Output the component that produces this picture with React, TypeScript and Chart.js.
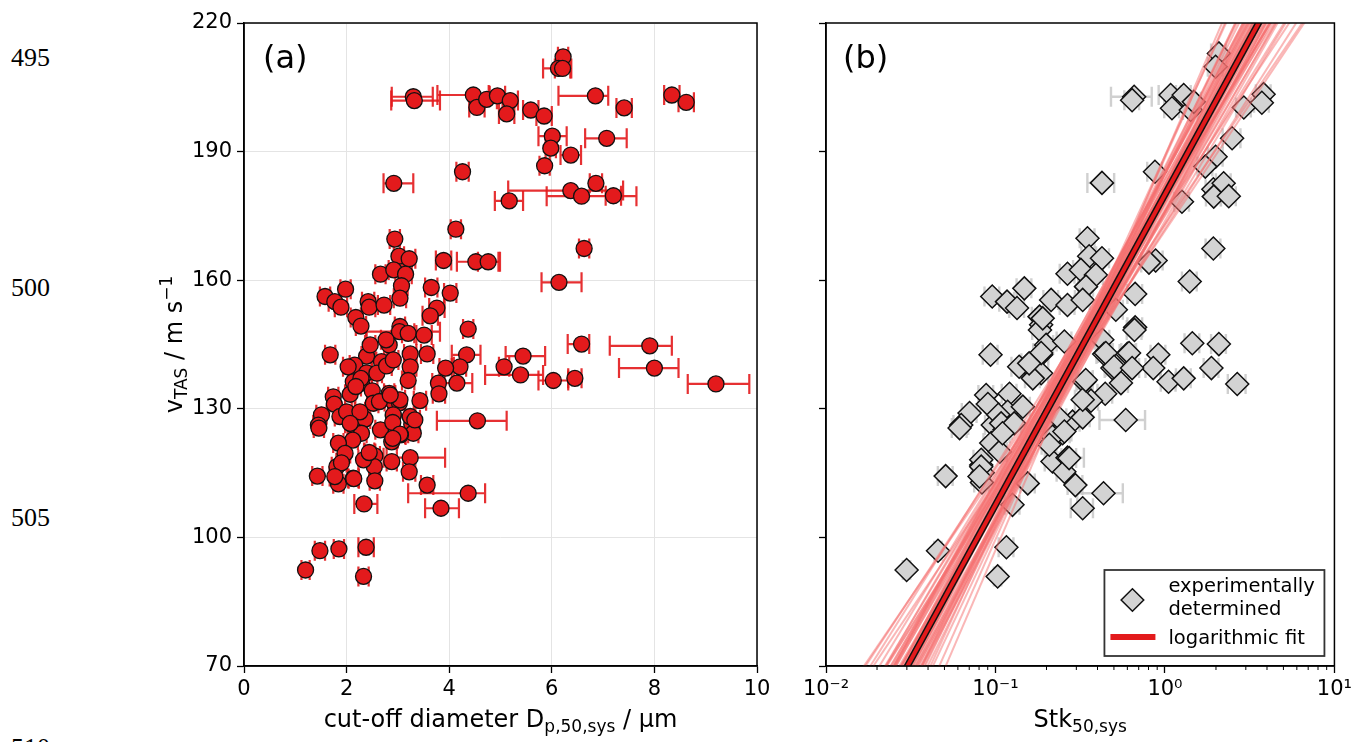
import React, { useEffect, useRef } from "react";
import { Chart, registerables } from "chart.js";

Chart.register(...registerables);

const FONT = "'DejaVu Sans', 'Noto Sans', sans-serif";

// ---------- Panel (a): cut-off diameter vs true air speed ----------
const aDp = [
  6.22, 6.13, 6.21, 3.30, 3.32, 4.47, 4.54, 4.73, 4.94, 5.19,
  5.12, 5.59, 5.85, 6.85, 7.41, 8.34, 8.62, 6.01, 7.07, 5.98,
  6.37, 5.86, 2.92, 4.26, 6.37, 6.58, 6.86, 7.20, 5.17, 4.13,
  2.94, 6.63, 3.02, 3.22, 3.89, 4.52, 4.76, 2.66, 2.92, 3.15,
  3.07, 6.14, 1.58, 1.98, 1.77, 1.89, 2.42, 2.44, 2.73, 3.04,
  3.65, 4.02, 3.76, 3.63, 2.18, 2.28, 3.04, 3.03, 3.20, 3.51,
  4.37, 6.58, 7.91, 5.44, 5.07, 5.39, 6.03, 6.45, 8.00, 9.20,
  4.34, 4.21, 3.93, 4.15, 3.79, 3.80, 3.43, 4.55, 3.57, 3.24,
  3.24, 3.20, 1.68, 2.39, 2.68, 2.83, 2.46, 2.77, 2.16, 2.03,
  2.39, 2.13, 2.29, 2.50, 2.07, 1.74, 1.76, 2.52, 2.83, 2.91,
  3.03, 1.51, 1.45, 1.46, 1.87, 2.00, 2.13, 2.36, 2.66, 2.91,
  3.27, 3.30, 3.05, 2.88, 2.29, 2.12, 1.84, 1.97, 1.81, 1.90,
  1.84, 1.77, 1.43, 2.13, 2.46, 2.55, 2.54, 2.33, 2.55, 2.88,
  3.24, 3.22, 3.57, 4.37, 2.34, 3.84, 1.48, 1.85, 2.38, 1.20,
  2.33, 2.64, 3.24, 3.33, 3.04, 2.26, 2.07, 2.91, 2.90, 3.04,
  2.90, 2.44, 2.14, 2.85, 2.59, 2.28, 2.18, 2.78, 2.91,
];
const aV = [
  212.1, 209.4, 209.4, 202.8, 201.9, 203.2, 200.3, 202.2, 203.0, 201.9,
  198.8, 199.7, 198.3, 203.0, 200.2, 203.2, 201.5, 193.6, 193.1, 190.8,
  189.2, 186.7, 182.6, 185.3, 180.9, 179.6, 182.6, 179.7, 178.5, 171.9,
  169.6, 167.4, 165.6, 165.0, 164.6, 164.3, 164.3, 161.4, 162.4, 161.4,
  158.7, 159.5, 156.2, 157.9, 155.0, 153.7, 155.0, 153.7, 154.2, 155.8,
  158.3, 157.0, 153.5, 151.7, 151.3, 149.3, 149.2, 148.0, 147.6, 147.2,
  148.6, 145.1, 144.7, 142.3, 139.8, 137.9, 136.6, 137.1, 139.5, 135.8,
  142.6, 139.8, 139.5, 136.0, 136.0, 133.5, 131.9, 127.2, 142.8, 142.8,
  139.8, 136.6, 142.6, 142.3, 141.0, 144.9, 144.9, 146.1, 140.2, 139.8,
  138.4, 136.3, 136.0, 134.2, 133.4, 132.8, 131.1, 131.3, 133.6, 131.7,
  131.4, 128.6, 126.2, 125.5, 128.2, 129.3, 126.2, 127.6, 125.1, 128.3,
  126.4, 124.3, 123.9, 122.3, 124.3, 122.7, 122.0, 119.6, 116.5, 117.4,
  112.5, 114.2, 114.3, 113.8, 119.6, 119.0, 116.5, 118.1, 113.2, 117.7,
  118.6, 115.3, 112.2, 110.3, 107.8, 106.8, 96.9, 97.3, 97.7, 92.4,
  90.9, 131.7, 128.2, 127.4, 132.1, 129.3, 126.6, 128.6, 126.8, 124.1,
  123.1, 119.8, 113.7, 133.2, 138.3, 137.1, 135.2, 140.0, 141.4,
];
const aErrLo = [
  0.10, 0.30, 0.15, 0.42, 0.45, 0.70, 0.15, 0.15, 0.15, 0.15,
  0.15, 0.15, 0.15, 0.72, 0.15, 0.15, 0.15, 0.27, 0.42, 0.10,
  0.20, 0.10, 0.20, 0.12, 1.22, 0.68, 0.12, 0.15, 0.28, 0.10,
  0.10, 0.10, 0.10, 0.12, 0.15, 0.37, 0.20, 0.10, 0.10, 0.12,
  0.12, 0.34, 0.10, 0.10, 0.12, 0.12, 0.12, 0.12, 0.12, 0.12,
  0.12, 0.12, 0.15, 0.15, 0.10, 0.10, 0.10, 0.64, 0.12, 0.15,
  0.10, 0.27, 0.78, 0.34, 0.10, 0.69, 0.29, 0.13, 0.69, 0.55,
  0.29, 0.12, 0.12, 0.30, 0.12, 0.12, 0.12, 0.79, 0.12, 0.12,
  0.12, 0.12, 0.10, 0.10, 0.10, 0.10, 0.10, 0.10, 0.10, 0.10,
  0.10, 0.10, 0.10, 0.10, 0.10, 0.10, 0.10, 0.10, 0.10, 0.10,
  0.10, 0.10, 0.10, 0.10, 0.10, 0.10, 0.10, 0.10, 0.10, 0.10,
  0.10, 0.10, 0.10, 0.10, 0.10, 0.10, 0.10, 0.10, 0.10, 0.10,
  0.10, 0.10, 0.10, 0.10, 0.10, 0.10, 0.10, 0.10, 0.10, 0.10,
  0.52, 0.12, 0.12, 1.17, 0.19, 0.31, 0.10, 0.10, 0.15, 0.08,
  0.10, 0.10, 0.10, 0.10, 0.10, 0.10, 0.10, 0.10, 0.10, 0.10,
  0.10, 0.10, 0.10, 0.10, 0.10, 0.10, 0.10, 0.10, 0.10,
];
const aErrHi = [
  0.10, 0.25, 0.15, 0.38, 0.50, 0.30, 0.15, 0.20, 0.15, 0.15,
  0.15, 0.15, 0.15, 0.25, 0.15, 0.15, 0.15, 0.28, 0.39, 0.10,
  0.20, 0.10, 0.38, 0.12, 1.02, 1.07, 0.12, 0.15, 0.27, 0.10,
  0.10, 0.10, 0.10, 0.12, 0.15, 0.47, 0.20, 0.10, 0.15, 0.12,
  0.12, 0.44, 0.10, 0.10, 0.12, 0.12, 0.12, 0.12, 0.12, 0.12,
  0.12, 0.12, 0.15, 0.15, 0.10, 0.10, 0.10, 0.79, 0.12, 0.15,
  0.10, 0.15, 0.43, 0.43, 0.10, 0.44, 0.29, 0.13, 0.47, 0.65,
  0.27, 0.12, 0.12, 0.30, 0.12, 0.12, 0.12, 0.57, 0.12, 0.12,
  0.12, 0.12, 0.10, 0.10, 0.10, 0.10, 0.10, 0.10, 0.10, 0.10,
  0.10, 0.10, 0.10, 0.10, 0.10, 0.10, 0.10, 0.10, 0.10, 0.10,
  0.10, 0.10, 0.10, 0.10, 0.10, 0.10, 0.10, 0.10, 0.10, 0.10,
  0.10, 0.10, 0.10, 0.10, 0.10, 0.10, 0.10, 0.10, 0.10, 0.10,
  0.10, 0.10, 0.10, 0.10, 0.10, 0.10, 0.10, 0.10, 0.10, 0.10,
  0.68, 0.12, 0.12, 0.33, 0.26, 0.35, 0.10, 0.10, 0.15, 0.08,
  0.10, 0.10, 0.10, 0.10, 0.10, 0.10, 0.10, 0.10, 0.10, 0.10,
  0.10, 0.10, 0.10, 0.10, 0.10, 0.10, 0.10, 0.10, 0.10,
];

// ---------- Panel (b): Stokes number vs true air speed ----------
const bStk = [
  2.08, 1.99, 0.658, 0.640, 1.08, 1.29, 1.10, 1.42, 1.48, 2.92,
  3.82, 3.73, 2.49, 1.99, 1.73, 0.873, 0.425, 1.26, 1.93, 2.22,
  1.94, 2.38, 1.93, 0.349, 0.357, 0.425, 0.881, 0.805, 0.266, 0.319,
  0.391, 0.342, 1.40, 0.667, 0.0957, 0.117, 0.148, 0.134, 0.213, 0.266,
  0.327, 0.182, 0.186, 0.667, 0.513, 1.45, 2.08, 0.427, 0.661, 0.183,
  0.0935, 0.914, 0.600, 0.438, 1.88, 0.853, 1.05, 1.29, 2.67, 0.490,
  0.550, 0.444, 0.366, 0.587, 0.334, 0.155, 0.186, 0.186, 0.138, 0.166,
  0.121, 0.118, 0.0881, 0.0902, 0.0703, 0.0628, 0.0614, 0.0964, 0.113, 0.0944,
  0.106, 0.0824, 0.0841, 0.0832, 0.0508, 0.126, 0.155, 0.217, 0.266, 0.255,
  0.296, 0.434, 0.327, 0.249, 0.255, 0.285, 0.327, 0.238, 0.217, 0.208,
  0.0299, 0.0458, 0.116, 0.103, 0.190, 0.199, 0.186, 0.255, 0.158, 0.448,
  0.501, 0.614, 0.104, 0.108, 0.0824, 0.0824, 0.0805, 0.145, 0.129, 0.110,
  0.272, 0.327, 0.341, 0.255, 0.640,
];
const bV = [
  212.9, 209.8, 202.8, 202.0, 203.2, 203.2, 200.1, 199.7, 201.6, 200.3,
  203.4, 201.4, 193.1, 188.8, 186.5, 185.3, 182.7, 178.3, 181.2, 182.6,
  179.5, 179.6, 167.4, 169.8, 165.6, 165.1, 164.6, 164.1, 161.5, 162.4,
  161.2, 158.5, 159.7, 156.8, 156.2, 155.0, 158.1, 153.5, 155.4, 154.2,
  155.4, 151.5, 149.6, 149.0, 153.1, 145.3, 145.1, 146.1, 148.4, 148.4,
  142.6, 142.6, 142.8, 142.8, 139.5, 139.5, 136.3, 137.1, 135.8, 139.5,
  136.0, 133.5, 131.9, 127.4, 136.3, 140.2, 142.6, 138.3, 139.8, 137.1,
  133.5, 129.3, 133.2, 131.1, 129.0, 126.2, 125.5, 126.2, 125.1, 122.0,
  120.0, 116.9, 115.1, 112.8, 114.3, 107.6, 112.6, 117.7, 118.6, 115.3,
  112.2, 110.3, 106.8, 124.3, 125.8, 127.0, 128.0, 127.8, 123.5, 121.6,
  92.4, 96.9, 97.7, 90.9, 151.1, 144.9, 143.0, 145.7, 140.6, 143.0,
  139.8, 143.0, 128.6, 126.6, 118.1, 116.5, 114.2, 130.5, 126.6, 124.3,
  118.5, 132.1, 136.7, 124.7, 139.5,
];
const bRelErr = [
  0.10, 0.10, 0.27, 0.10, 0.15, 0.10, 0.10, 0.10, 0.10, 0.10,
  0.10, 0.10, 0.12, 0.10, 0.10, 0.10, 0.18, 0.10, 0.10, 0.10,
  0.10, 0.10, 0.10, 0.10, 0.10, 0.10, 0.10, 0.10, 0.10, 0.10,
  0.10, 0.10, 0.10, 0.10, 0.10, 0.10, 0.10, 0.10, 0.10, 0.10,
  0.10, 0.10, 0.10, 0.10, 0.10, 0.10, 0.10, 0.10, 0.10, 0.10,
  0.10, 0.10, 0.10, 0.10, 0.10, 0.10, 0.10, 0.10, 0.12, 0.10,
  0.10, 0.10, 0.10, 0.30, 0.10, 0.10, 0.10, 0.10, 0.10, 0.10,
  0.10, 0.10, 0.10, 0.10, 0.10, 0.10, 0.10, 0.10, 0.10, 0.10,
  0.10, 0.10, 0.10, 0.10, 0.10, 0.10, 0.10, 0.10, 0.25, 0.10,
  0.10, 0.30, 0.15, 0.10, 0.10, 0.10, 0.10, 0.10, 0.10, 0.10,
  0.05, 0.05, 0.10, 0.05, 0.10, 0.10, 0.10, 0.10, 0.10, 0.10,
  0.10, 0.10, 0.10, 0.10, 0.10, 0.10, 0.10, 0.10, 0.10, 0.10,
  0.10, 0.10, 0.10, 0.10, 0.10,
];

// logarithmic fit, given by its values at Stk = 0.01 and Stk = 10
const fitEnds = [35.2, 252.4];
// bootstrap fits (pink band): value at Stk = 0.01 and at Stk = 10
const bandStart = [
  56, 48, 53.5, 47, 49.5, 41, 44.5, 40.8, 46, 38.3,
  42.5, 34.8, 39, 41.3, 35.5, 41.8, 35, 37.3, 30.5, 34.8,
  37, 30.3, 31.5, 33.8, 27, 30.5, 26, 28.5, 22, 22,
  17, 17, 10.5, 5, 57, 53.5,
  43.5, 36, 41.5, 32, 37.5, 30, 35.5, 28, 41, 28,
  41, 34.5, 36.5, 32.5, 42, 25.5, 47, 25,
];
const bandEnd = [
  236, 234, 242.5, 239, 244.5, 239, 245.5, 243.3, 250, 243.8,
  249.5, 243.3, 249, 252.8, 248.5, 256.3, 251, 254.8, 249.5, 255.3,
  259, 253.8, 256.5, 260.3, 255, 261.5, 260, 265.5, 262, 268,
  269, 275, 277.5, 281, 231, 230.5,
  250.5, 246, 254.5, 248, 256.5, 252, 260.5, 256, 257, 250,
  251, 253.5, 249.5, 257.5, 246, 256.5, 245, 265,
];

const logTickValues = [0.01, 0.1, 1, 10];
const logTickLabels = ["10\u207B\u00B2", "10\u207B\u00B9", "10\u2070", "10\u00B9"];
const pageLineNumbers = ["495", "500", "505", "510"];

const RED = "rgb(227,26,28)";
const CAP = 10;

type Part = { t: string; size: number; dy?: number };

function drawRich(ctx: CanvasRenderingContext2D, parts: Part[], x: number, baseline: number, align: "center" | "left") {
  let w = 0;
  parts.forEach((p) => {
    ctx.font = `${p.size}px ${FONT}`;
    w += ctx.measureText(p.t).width;
  });
  let cx = align === "center" ? x - w / 2 : x;
  ctx.textAlign = "left";
  ctx.textBaseline = "alphabetic";
  parts.forEach((p) => {
    ctx.font = `${p.size}px ${FONT}`;
    ctx.fillText(p.t, cx, baseline + (p.dy || 0));
    cx += ctx.measureText(p.t).width;
  });
}

const framePlugin = {
  id: "frame",
  afterDraw(chart: any) {
    const { ctx, chartArea } = chart;
    ctx.save();
    ctx.strokeStyle = "#000";
    ctx.lineWidth = 1.5;
    ctx.strokeRect(chartArea.left, chartArea.top, chartArea.right - chartArea.left, chartArea.bottom - chartArea.top);
    ctx.restore();
  },
};

const errAPlugin = {
  id: "errA",
  beforeDatasetsDraw(chart: any) {
    const { ctx, chartArea, scales } = chart;
    const xs = scales.x;
    const ys = scales.y;
    ctx.save();
    ctx.beginPath();
    ctx.rect(chartArea.left, chartArea.top, chartArea.right - chartArea.left, chartArea.bottom - chartArea.top);
    ctx.clip();
    ctx.strokeStyle = "rgba(227,26,28,0.9)";
    ctx.lineWidth = 2.2;
    aDp.forEach((d, i) => {
      const py = ys.getPixelForValue(aV[i]);
      const x0 = xs.getPixelForValue(d - aErrLo[i]);
      const x1 = xs.getPixelForValue(d + aErrHi[i]);
      ctx.beginPath();
      ctx.moveTo(x0, py);
      ctx.lineTo(x1, py);
      ctx.moveTo(x0, py - CAP);
      ctx.lineTo(x0, py + CAP);
      ctx.moveTo(x1, py - CAP);
      ctx.lineTo(x1, py + CAP);
      ctx.stroke();
    });
    ctx.restore();
  },
};

const labelsAPlugin = {
  id: "labelsA",
  afterDraw(chart: any) {
    const { ctx, chartArea } = chart;
    ctx.save();
    ctx.fillStyle = "#000";
    const cx = (chartArea.left + chartArea.right) / 2;
    drawRich(ctx, [
      { t: "cut-off diameter D", size: 24 },
      { t: "p,50,sys", size: 17, dy: 5 },
      { t: " / \u00B5m", size: 24 },
    ], cx, 727, "center");
    ctx.save();
    ctx.translate(182, (chartArea.top + chartArea.bottom) / 2);
    ctx.rotate(-Math.PI / 2);
    drawRich(ctx, [
      { t: "v", size: 24 },
      { t: "TAS", size: 17, dy: 5 },
      { t: " / m s", size: 24 },
      { t: "\u22121", size: 17, dy: -10 },
    ], 0, 0, "center");
    ctx.restore();
    drawRich(ctx, [{ t: "(a)", size: 32 }], chartArea.left + 19, 68, "left");
    ctx.restore();
  },
};

const errBPlugin = {
  id: "errB",
  beforeDatasetsDraw(chart: any) {
    const { ctx, chartArea, scales } = chart;
    const xs = scales.x;
    const ys = scales.y;
    ctx.save();
    ctx.beginPath();
    ctx.rect(chartArea.left, chartArea.top, chartArea.right - chartArea.left, chartArea.bottom - chartArea.top);
    ctx.clip();
    ctx.strokeStyle = "rgba(200,200,200,0.85)";
    ctx.lineWidth = 2.4;
    bStk.forEach((s, i) => {
      const py = ys.getPixelForValue(bV[i]);
      const x0 = xs.getPixelForValue(s * (1 - bRelErr[i]));
      const x1 = xs.getPixelForValue(s * (1 + bRelErr[i]));
      ctx.beginPath();
      ctx.moveTo(x0, py);
      ctx.lineTo(x1, py);
      ctx.moveTo(x0, py - CAP);
      ctx.lineTo(x0, py + CAP);
      ctx.moveTo(x1, py - CAP);
      ctx.lineTo(x1, py + CAP);
      ctx.stroke();
    });
    ctx.restore();
  },
};

const labelsBPlugin = {
  id: "labelsB",
  afterDraw(chart: any) {
    const { ctx, chartArea, scales } = chart;
    const xs = scales.x;
    ctx.save();
    // minor log ticks
    ctx.strokeStyle = "#000";
    ctx.lineWidth = 1;
    for (let e = -2; e < 1; e++) {
      for (let m = 2; m <= 9; m++) {
        const px = xs.getPixelForValue(m * Math.pow(10, e));
        ctx.beginPath();
        ctx.moveTo(px, chartArea.bottom);
        ctx.lineTo(px, chartArea.bottom + 4);
        ctx.stroke();
      }
    }
    ctx.fillStyle = "#000";
    const cx = (chartArea.left + chartArea.right) / 2;
    drawRich(ctx, [
      { t: "Stk", size: 24 },
      { t: "50,sys", size: 17, dy: 5 },
    ], cx, 727, "center");
    drawRich(ctx, [{ t: "(b)", size: 32 }], chartArea.left + 17, 68, "left");

    // legend
    const lx = chartArea.right - 230;
    const ly = chartArea.bottom - 96;
    ctx.fillStyle = "#fff";
    ctx.fillRect(lx, ly, 220, 86);
    ctx.strokeStyle = "#333";
    ctx.lineWidth = 1.8;
    ctx.strokeRect(lx, ly, 220, 86);
    const dx = lx + 28;
    const dy = ly + 30;
    const r = 11.3;
    ctx.beginPath();
    ctx.moveTo(dx - r, dy);
    ctx.lineTo(dx, dy - r);
    ctx.lineTo(dx + r, dy);
    ctx.lineTo(dx, dy + r);
    ctx.closePath();
    ctx.fillStyle = "#d3d3d3";
    ctx.fill();
    ctx.strokeStyle = "#111";
    ctx.lineWidth = 1.5;
    ctx.stroke();
    ctx.strokeStyle = RED;
    ctx.lineWidth = 6;
    ctx.beginPath();
    ctx.moveTo(lx + 6, ly + 67);
    ctx.lineTo(lx + 51, ly + 67);
    ctx.stroke();
    ctx.fillStyle = "#000";
    drawRich(ctx, [{ t: "experimentally", size: 19.5 }], lx + 64, ly + 22, "left");
    drawRich(ctx, [{ t: "determined", size: 19.5 }], lx + 64, ly + 45, "left");
    drawRich(ctx, [{ t: "logarithmic fit", size: 19.5 }], lx + 64, ly + 74, "left");
    ctx.restore();
  },
};

const tickFont = { size: 21, family: FONT };

export default function App() {
  const refA = useRef<HTMLCanvasElement>(null);
  const refB = useRef<HTMLCanvasElement>(null);

  useEffect(() => {
    const chartA = new Chart(refA.current as HTMLCanvasElement, {
      type: "scatter",
      data: {
        datasets: [
          {
            data: aDp.map((d, i) => ({ x: d, y: aV[i] })),
            pointRadius: 8,
            pointHoverRadius: 8,
            pointBackgroundColor: RED,
            pointBorderColor: "#111",
            pointBorderWidth: 1.3,
          },
        ],
      },
      options: {
        animation: false,
        responsive: false,
        devicePixelRatio: 1,
        events: [],
        layout: { padding: { left: 0, right: 23, top: 23, bottom: 0 } },
        plugins: { legend: { display: false }, tooltip: { enabled: false } },
        scales: {
          x: {
            type: "linear",
            min: 0,
            max: 10,
            ticks: { stepSize: 2, color: "#000", font: tickFont, padding: 4, maxRotation: 0 },
            grid: { color: "#e4e4e4", lineWidth: 1, tickColor: "#000", tickLength: 7, tickWidth: 1.3 },
            border: { color: "#000", width: 1.5 },
            afterFit: (s: any) => {
              s.height = 76;
            },
          },
          y: {
            type: "linear",
            min: 70,
            max: 220,
            ticks: { stepSize: 30, color: "#000", font: tickFont, padding: 5 },
            grid: { color: "#e4e4e4", lineWidth: 1, tickColor: "#000", tickLength: 7, tickWidth: 1.3 },
            border: { color: "#000", width: 1.5 },
            afterFit: (s: any) => {
              s.width = 244;
            },
          },
        },
      } as any,
      plugins: [errAPlugin, framePlugin, labelsAPlugin],
    } as any);

    const bandSets = bandStart.map((v0, i) => ({
      data: [
        { x: logTickValues[0], y: v0 },
        { x: logTickValues[3], y: bandEnd[i] },
      ],
      showLine: true,
      borderColor: "rgba(246,112,112,0.5)",
      borderWidth: 2,
      pointRadius: 0,
      order: 2,
    }));

    const chartB = new Chart(refB.current as HTMLCanvasElement, {
      type: "scatter",
      data: {
        datasets: [
          {
            data: [
              { x: logTickValues[0], y: fitEnds[0] },
              { x: logTickValues[3], y: fitEnds[1] },
            ],
            showLine: true,
            borderColor: RED,
            borderWidth: 4,
            pointRadius: 0,
            order: 0,
          },
          {
            data: [
              { x: logTickValues[0], y: fitEnds[0] },
              { x: logTickValues[3], y: fitEnds[1] },
            ],
            showLine: true,
            borderColor: "#111",
            borderWidth: 7,
            pointRadius: 0,
            order: 1,
          },
          ...bandSets,
          {
            data: bStk.map((s, i) => ({ x: s, y: bV[i] })),
            pointStyle: "rectRot",
            pointRadius: 11.5,
            pointHoverRadius: 11.5,
            pointBackgroundColor: "#d3d3d3",
            pointBorderColor: "#111",
            pointBorderWidth: 1.5,
            order: 10,
          },
        ],
      },
      options: {
        animation: false,
        responsive: false,
        devicePixelRatio: 1,
        events: [],
        layout: { padding: { left: 0, right: 20, top: 23, bottom: 0 } },
        plugins: { legend: { display: false }, tooltip: { enabled: false } },
        scales: {
          x: {
            type: "logarithmic",
            min: 0.01,
            max: 10,
            afterBuildTicks: (s: any) => {
              s.ticks = logTickValues.map((v) => ({ value: v, major: true }));
            },
            ticks: {
              color: "#000",
              font: tickFont,
              padding: 4,
              maxRotation: 0,
              autoSkip: false,
              callback: (_v: any, i: number) => logTickLabels[i],
            },
            grid: { drawOnChartArea: false, tickColor: "#000", tickLength: 7, tickWidth: 1.3 },
            border: { color: "#000", width: 1.5 },
            afterFit: (s: any) => {
              s.height = 76;
            },
          },
          y: {
            type: "linear",
            min: 70,
            max: 220,
            ticks: { stepSize: 30, display: false },
            grid: { drawOnChartArea: false, tickColor: "#000", tickLength: 7, tickWidth: 1.3 },
            border: { color: "#000", width: 1.5 },
            afterFit: (s: any) => {
              s.width = 46;
            },
          },
        },
      } as any,
      plugins: [errBPlugin, framePlugin, labelsBPlugin],
    } as any);

    return () => {
      chartA.destroy();
      chartB.destroy();
    };
  }, []);

  const lineNumberTops = [45, 275, 505, 735];

  return (
    <div
      style={{
        position: "fixed",
        left: 0,
        top: 0,
        width: 1356,
        height: 742,
        overflow: "hidden",
        background: "#fff",
      }}
    >
      {pageLineNumbers.map((n, i) => (
        <div
          key={n}
          style={{
            position: "absolute",
            left: 11,
            top: lineNumberTops[i],
            fontFamily: "'Liberation Serif', 'DejaVu Serif', serif",
            fontSize: 26,
            lineHeight: "26px",
            color: "#000",
          }}
        >
          {n}
        </div>
      ))}
      <canvas ref={refA} width={780} height={742} style={{ position: "absolute", left: 0, top: 0 }} />
      <canvas ref={refB} width={576} height={742} style={{ position: "absolute", left: 780, top: 0 }} />
    </div>
  );
}
